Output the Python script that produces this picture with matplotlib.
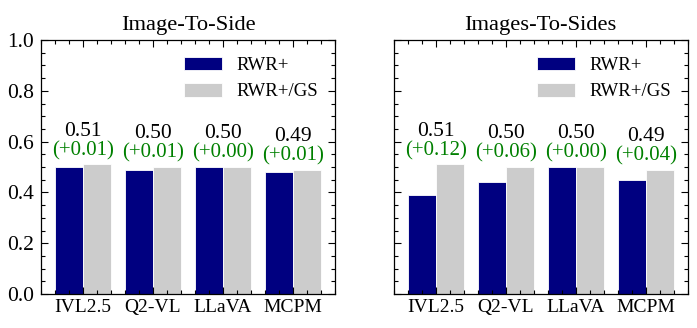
import matplotlib
matplotlib.use("Agg")
import matplotlib.pyplot as plt
import numpy as np
from matplotlib.ticker import AutoMinorLocator

plt.rcParams['font.family'] = ['Liberation Serif', 'DejaVu Serif']
plt.rcParams['mathtext.fontset'] = 'stix'

models = ["IVL2.5", "Q2-VL", "LLaVA", "MCPM"]
titles = ["Image-To-Side", "Images-To-Sides"]
series_names = ["RWR+", "RWR+/GS"]
side_rwr = [0.50, 0.49, 0.50, 0.48]
side_gs = [0.51, 0.50, 0.50, 0.49]
sides_rwr = [0.39, 0.44, 0.50, 0.45]
sides_gs = [0.51, 0.50, 0.50, 0.49]
side_gain = ["(+0.01)", "(+0.01)", "(+0.00)", "(+0.01)"]
sides_gain = ["(+0.12)", "(+0.06)", "(+0.00)", "(+0.04)"]

panels = [
    (titles[0], side_rwr, side_gs, side_gain),
    (titles[1], sides_rwr, sides_gs, sides_gain),
]

W, H = 697, 328
fig = plt.figure(figsize=(W / 100, H / 100), dpi=100)
axes = [
    fig.add_axes([41 / W, 1 - 294 / H, 294 / W, 254 / H]),
    fig.add_axes([393.5 / W, 1 - 294 / H, 294.5 / W, 254 / H]),
]

navy = "#000080"
gray = "#cccccc"
green = "#008000"
x = np.arange(len(models))
w = 0.4

for i, (ax, (title, rwr, gs, gain)) in enumerate(zip(axes, panels)):
    ax.bar(x - w / 2, rwr, w, color=navy, edgecolor="white", linewidth=0.6, label=series_names[0])
    ax.bar(x + w / 2, gs, w, color=gray, edgecolor="white", linewidth=0.6, label=series_names[1])
    for j in range(len(models)):
        top = max(rwr[j], gs[j])
        ax.text(x[j], top + 0.113, f"{gs[j]:.2f}", ha="center", va="baseline",
                fontsize=15.5, color="black")
        ax.text(x[j], top + 0.037, gain[j], ha="center", va="baseline",
                fontsize=15, color=green)
    ax.set_xlim(-0.6, 3.6)
    ax.set_ylim(0, 1.0)
    ax.set_xticks(x)
    ax.set_xticklabels(models, fontsize=14)
    ax.set_yticks(np.arange(0, 1.01, 0.2))
    if i == 0:
        ax.set_yticklabels([f"{v:.1f}" for v in np.arange(0, 1.01, 0.2)], fontsize=15.5)
    else:
        ax.set_yticklabels([])
    ax.xaxis.set_minor_locator(AutoMinorLocator(5))
    ax.yaxis.set_minor_locator(AutoMinorLocator(4))
    ax.tick_params(which="both", direction="in", top=True, right=True, width=0.8)
    ax.tick_params(which="major", length=5)
    ax.tick_params(which="minor", length=2.8)
    ax.tick_params(axis="y", which="major", pad=5)
    for s in ax.spines.values():
        s.set_linewidth(0.9)
    ax.set_title(title, fontsize=16.2, pad=7)
    ax.legend(loc="upper right", frameon=False, fontsize=13.5)

fig.savefig("out.png", dpi=100)
